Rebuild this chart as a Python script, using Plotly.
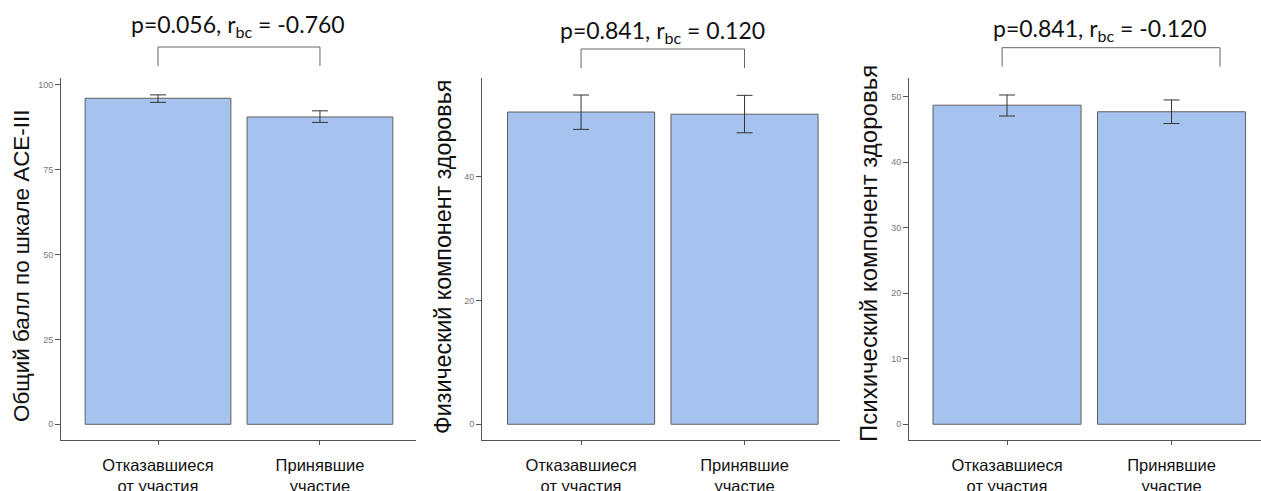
import plotly.graph_objects as go

W, H = 1261, 491

categories = ["Отказавшиеся<br>от участия", "Принявшие<br>участие"]

y_titles = ["Общий балл по шкале ACE-III",
            "Физический компонент здоровья",
            "Психический компонент здоровья"]

means_ace = [96.0, 90.5]
upper_ace = [97.0, 92.3]
lower_ace = [94.8, 88.9]

means_phys = [50.45, 50.1]
upper_phys = [53.2, 53.15]
lower_phys = [47.65, 47.1]

means_ment = [48.7, 47.7]
upper_ment = [50.26, 49.5]
lower_ment = [47.05, 45.9]

p_values = ["0.056", "0.841", "0.841"]
r_values = ["-0.760", "0.120", "-0.120"]

tickvals_ace = [0, 25, 50, 75, 100]
tickvals_phys = [0, 20, 40]
tickvals_ment = [0, 10, 20, 30, 40, 50]

panels = [
    (means_ace, upper_ace, lower_ace, tickvals_ace),
    (means_phys, upper_phys, lower_phys, tickvals_phys),
    (means_ment, upper_ment, lower_ment, tickvals_ment),
]

# layout geometry (pixels)
x_dom_px = [(61, 416), (482, 840), (909, 1261)]
x_ranges = [[-0.599, 1.593], [-0.606, 1.584], [-0.596, 1.544]]
y_ranges = [[-4.62, 101.97], [-2.54, 55.95], [-2.40, 52.85]]
plot_top, plot_bot = 78, 440
title_x_px = [21, 443, 868]
title_y_px = [266, 257, 254]
title_sizes = [22.4, 23.3, 24.0]
bracket_x = [(0, 1), (0, 1), (-0.03, 1.295)]
bracket_y_px = [(47, 66), (49, 68), (47.7, 66.7)]
label_pos_px = [(238, 25), (662, 31), (1100, 29)]

BAR_FILL = "#A6C3EF"
BAR_LINE = "#5f5f5f"
AX_COL = "#555555"

fig = go.Figure()
for i, (m, up, lo, tv) in enumerate(panels):
    sfx = "" if i == 0 else str(i + 1)
    fig.add_trace(go.Bar(
        x=categories, y=m, width=0.9,
        marker=dict(color=BAR_FILL, line=dict(color=BAR_LINE, width=1)),
        error_y=dict(type="data", symmetric=False,
                     array=[u - v for u, v in zip(up, m)],
                     arrayminus=[v - l for l, v in zip(lo, m)],
                     color="#333333", thickness=1, width=8),
        xaxis="x" + sfx, yaxis="y" + sfx, showlegend=False,
    ))
    x0, x1 = x_dom_px[i]
    fig.layout["xaxis" + sfx] = dict(
        domain=[x0 / W, x1 / W], anchor="y" + sfx, range=x_ranges[i],
        showline=True, linecolor=AX_COL, linewidth=1,
        ticks="outside", ticklen=4, tickcolor=AX_COL,
        tickfont=dict(family="Liberation Sans, Arial", size=16.5, color="#111111"),
        ticklabelstandoff=6, showgrid=False, zeroline=False, automargin=False,
    )
    fig.layout["yaxis" + sfx] = dict(
        domain=[1 - plot_bot / H, 1 - plot_top / H], anchor="x" + sfx,
        range=y_ranges[i], tickvals=tv,
        showline=True, linecolor=AX_COL, linewidth=1,
        ticks="outside", ticklen=5, tickcolor=AX_COL,
        tickfont=dict(family="Liberation Sans, Arial", size=9, color="#777777"),
        showgrid=False, zeroline=False, automargin=False,
    )
    # y-axis title
    fig.add_annotation(
        text=y_titles[i], textangle=-90, xref="paper", yref="paper",
        x=title_x_px[i] / W, y=1 - title_y_px[i] / H,
        xanchor="center", yanchor="middle", showarrow=False,
        font=dict(family="Liberation Sans, Arial", size=title_sizes[i], color="#111111"),
    )
    # significance bracket
    bx0, bx1 = bracket_x[i]
    by0, by1 = bracket_y_px[i]
    for xs, ys in [((bx0, bx0), (by1, by0)), ((bx0, bx1), (by0, by0)), ((bx1, bx1), (by0, by1))]:
        fig.add_shape(type="line", xref="x" + sfx, yref="paper",
                      x0=xs[0], x1=xs[1], y0=1 - ys[0] / H, y1=1 - ys[1] / H,
                      line=dict(color="#666666", width=1))
    lx, ly = label_pos_px[i]
    fig.add_annotation(
        text=f"p={p_values[i]}, r<sub>bc</sub> = {r_values[i]}",
        xref="paper", yref="paper", x=lx / W, y=1 - ly / H,
        xanchor="center", yanchor="middle", showarrow=False,
        font=dict(family="Lato, Carlito, Calibri, sans-serif", size=23, color="#111111"),
    )

fig.update_layout(
    width=W, height=H, margin=dict(l=0, r=0, t=0, b=0),
    plot_bgcolor="white", paper_bgcolor="white", bargap=0.1,
)

fig.write_html("out.html", config={"displayModeBar": False},
               post_script="document.body.style.margin='0px';")
